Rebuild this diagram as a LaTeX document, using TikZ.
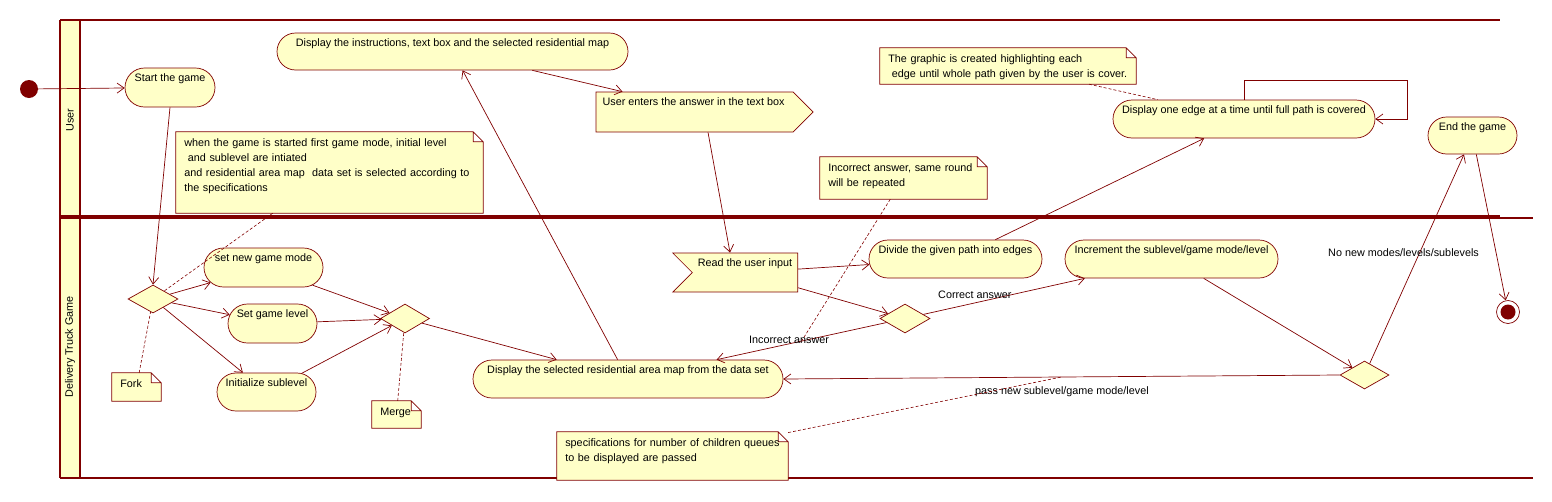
\documentclass[tikz,border=0pt]{standalone}
\usepackage{fontspec}
\setmainfont{Liberation Sans}
\usepackage{tikz}
\usetikzlibrary{arrows.meta,shapes.geometric,shapes.misc,shapes.symbols,backgrounds}
\definecolor{dkred}{HTML}{800000}
\definecolor{paleyel}{HTML}{FFFFC8}

\begin{document}
\begin{tikzpicture}[x=1pt, y=-1pt, font=\fontsize{10.8}{15}\selectfont,
        act/.style={rounded rectangle, draw=dkred, fill=paleyel, line width=0.7pt, inner sep=0pt},
        acttext/.style={anchor=base, yshift=-14pt},
        sig/.style={signal, draw=dkred, fill=paleyel, line width=0.7pt, inner sep=0pt},
        branch/.style={diamond, draw=dkred, fill=paleyel, line width=0.7pt, inner sep=0pt},
        note/.style={rectangle, inner sep=0pt},
        notetext/.style={anchor=base west, xshift=5pt, yshift=-15pt, text width=330pt, align=left},
        lbl/.style={anchor=base west, inner sep=0pt},
        lane/.style={draw=dkred, line width=2pt},
        flow/.style={draw=dkred, line width=0.7pt, -{Straight Barb[length=7pt,width=10pt]}},
        link/.style={draw=dkred, line width=0.6pt, dash pattern=on 3pt off 2pt}]
        \useasboundingbox (0,0) rectangle (1552,501);

        % swimlanes
        \begin{scope}[on background layer]
                \fill[paleyel] (60,20) rectangle (80,478);
                \draw[lane] (60,20) -- (1500,20) (60,215.5) -- (1500,215.5);
                \draw[lane] (60,217.5) -- (1533,217.5) (60,478) -- (1533,478);
                \draw[lane] (60,20) -- (60,478) (80,20) -- (80,478);
        \end{scope}
        \node[rotate=90] (lane1) at (70,120) {User};
        \node[rotate=90] (lane2) at (70,347) {Delivery Truck Game};

        \node[circle, fill=dkred, minimum size=18, inner sep=0pt] (init) at (29,89) {};
        \node[act, minimum width=90, minimum height=39, label={[acttext]north:Start the game}] (start) at (170,87.5) {};
        \node[act, minimum width=351, minimum height=37, label={[acttext]north:Display the instructions, text box and the selected residential map}] (instr) at (452.5,51.5) {};
        \node[note, minimum width=307, minimum height=81, label={[notetext]north west:{when the game is started first game mode, initial level\\\ and sublevel are intiated\\and residential area map\ \ data set is selected according to\\the specifications}}] (startnote) at (329.5,172.5) {};

        \node[branch, minimum width=50, minimum height=28] (fork) at (153,299) {};
        \node[act, minimum width=119, minimum height=39, label={[acttext]north:set new game mode}] (mode) at (263.5,267.5) {};
        \node[act, minimum width=89, minimum height=39, label={[acttext]north:Set game level}] (level) at (272.5,323.5) {};
        \node[act, minimum width=99, minimum height=38, label={[acttext]north:Initialize sublevel}] (sub) at (266.5,392) {};
        \node[note, minimum width=49, minimum height=28, label={[notetext]north west:Fork}] (forknote) at (136.5,387) {};
        \node[branch, minimum width=49, minimum height=29] (merge) at (405,318.5) {};
        \node[note, minimum width=49, minimum height=27, label={[notetext]north west:Merge}] (mergenote) at (396.5,414.5) {};
        \node[act, minimum width=310, minimum height=38, label={[acttext]north:Display the selected residential area map from the data set}] (map) at (628,379) {};

        \node[sig, signal to=east, minimum width=217, minimum height=40, label={[acttext, xshift=-1pt]north:User enters the answer in the text box}] (enter) at (694.5,112) {};
        \node[sig, signal to=nowhere, signal from=west, minimum width=125, minimum height=39, label={[acttext]north:Read the user input}] (read) at (745,272.5) {};
        \node[act, minimum width=173, minimum height=38, label={[acttext]north:Divide the given path into edges}] (divide) at (955.5,259) {};
        \node[branch, minimum width=50, minimum height=29] (check) at (905,318.5) {};
        \node[note, minimum width=167, minimum height=42, label={[notetext]north west:{Incorrect answer, same round\\will be repeated}}] (wrongnote) at (903.5,178) {};
        \node[act, minimum width=262, minimum height=38, label={[acttext]north:Display one edge at a time until full path is covered}] (showedge) at (1244,119) {};
        \node[note, minimum width=256, minimum height=36, label={[notetext]north west:{The graphic is created highlighting each\\\ edge until whole path given by the user is cover.}}] (drawnote) at (1008,66) {};
        \node[act, minimum width=213, minimum height=38, label={[acttext]north:Increment the sublevel/game mode/level}] (inc) at (1171.5,259) {};
        \node[branch, minimum width=49, minimum height=28] (more) at (1364.5,375) {};
        \node[note, minimum width=231, minimum height=48, label={[notetext]north west:{specifications for number of children queues\\to be displayed are passed}}] (specnote) at (672.5,456) {};
        \node[act, minimum width=89, minimum height=37, label={[acttext]north:End the game}] (endg) at (1472.5,135.5) {};
        \node[circle, draw=dkred, fill=white, line width=0.7pt, minimum size=23, inner sep=0pt,
              path picture={\fill[dkred] (path picture bounding box.center) circle (7.5pt);}] (final) at (1508,312) {};

        % note shapes with folded corner
        \begin{scope}[on background layer]
                \foreach \n in {startnote,forknote,mergenote,wrongnote,drawnote,specnote}
                        \draw[draw=dkred, fill=paleyel, line width=0.7pt] (\n.north west) -- ([xshift=-10pt]\n.north east) -- ([yshift=-10pt]\n.north east)
                              -- (\n.south east) -- (\n.south west) -- cycle
                              ([xshift=-10pt]\n.north east) |- ([yshift=-10pt]\n.north east);
        \end{scope}

        \draw (init) edge[flow] (start)
              (start.south) edge[flow] (fork.north)
              (fork) edge[flow] (mode)
              (fork) edge[flow] (level)
              (fork) edge[flow] (sub)
              (mode) edge[flow] (merge)
              (level) edge[flow] (merge)
              (sub) edge[flow] (merge)
              (merge) edge[flow] (map)
              (map) edge[flow] (instr)
              (instr) edge[flow] ([xshift=-72pt]enter.north)
              ([xshift=13.5pt]enter.south) edge[flow] ([xshift=-15pt]read.north)
              (read) edge[flow] (divide)
              (read) edge[flow] (check)
              (check) edge[flow] (inc)
              (check) edge[flow] coordinate[pos=0.5] (wrongpt) (map)
              (divide) edge[flow] (showedge)
              (inc) edge[flow] (more)
              (more.west) edge[flow] coordinate[pos=0.5] (passpt) (map.east)
              (more) edge[flow] (endg)
              (endg) edge[flow] (final);
        \draw[flow] (showedge.north) -- ++(0,-19) -| ([xshift=32pt]showedge.east) -- (showedge.east);

        \node[lbl] (lblright) at (938,298) {Correct answer};
        \node[lbl] (lblwrong) at (749,343) {Incorrect answer};
        \node[lbl] (lblpass) at (975,394) {pass new sublevel/game mode/level};
        \node[lbl] (lblnone) at (1328,256) {No new modes/levels/sublevels};

        \draw[link] (startnote) -- (fork)
              (forknote) -- (fork)
              (mergenote) -- (merge)
              (wrongnote) -- (wrongpt)
              (drawnote) -- (showedge)
              (specnote) -- (passpt);
\end{tikzpicture}
\end{document}
